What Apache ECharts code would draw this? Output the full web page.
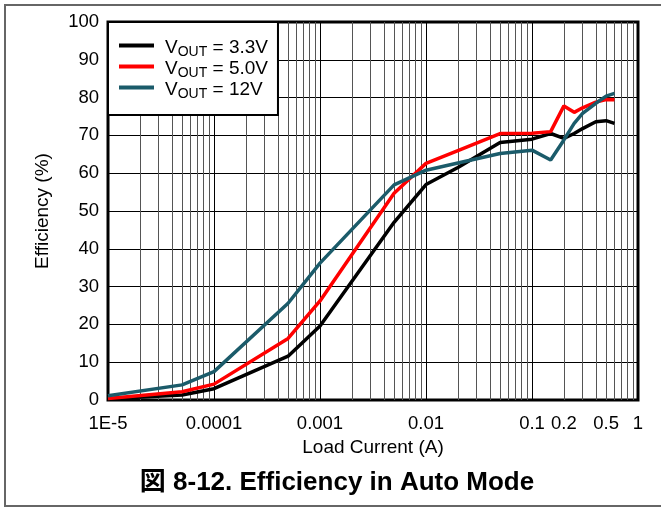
<!DOCTYPE html>
<html><head><meta charset="utf-8">
<script src="https://cdn.jsdelivr.net/npm/echarts@6/dist/echarts.min.js"></script>
<style>html,body{margin:0;padding:0;background:#fff}#c{width:661px;height:508px}</style>
</head><body><div id="c"></div>
<script>
// Load current (A)
const currents = [1e-5, 5e-5, 1e-4, 5e-4, 1e-3, 5e-3, 0.01, 0.02, 0.05, 0.1, 0.15, 0.2, 0.25, 0.3, 0.4, 0.5, 0.6];
// Efficiency (%)
const eff33 = [0.3, 1.3, 3.0, 11.6, 19.6, 47.0, 57.0, 61.5, 68.1, 69.0, 70.5, 69.2, 70.5, 71.8, 73.6, 73.9, 73.2];
const eff50 = [0.4, 2.2, 4.2, 16.3, 26.2, 54.7, 62.6, 66.0, 70.5, 70.6, 71.0, 77.8, 76.1, 77.3, 78.8, 79.5, 79.4];
const eff12 = [1.1, 4.0, 7.5, 25.6, 36.2, 56.9, 60.8, 62.7, 65.2, 66.1, 63.5, 68.8, 73.2, 75.8, 78.5, 80.4, 81.1];
const seriesNames = ['3.3V', '5.0V', '12V'];
const seriesColors = ['#000000', '#ff0000', '#1b5b6a'];
const xTickValues = [1e-5, 1e-4, 1e-3, 1e-2, 0.1, 0.2, 0.5, 1];
const xTickLabels = ['1E-5', '0.0001', '0.001', '0.01', '0.1', '0.2', '0.5', '1'];

// log grid lines: 1..9 x each decade
const gridVals = [];
for (let d = -5; d < 0; d++) {
  for (let k = 1; k <= 9; k++) gridVals.push(Number((k * Math.pow(10, d)).toPrecision(6)));
}
gridVals.push(1);
const gridColors = ['#000'].concat(Array(8).fill('#555'));

const font = 'Arial, "Liberation Sans", sans-serif';
const chart = echarts.init(document.getElementById('c'), null, {renderer: 'canvas'});
const seriesData = [eff33, eff50, eff12];

chart.setOption({
  animation: false,
  backgroundColor: '#fff',
  graphic: [{
    type: 'rect', z: -10,
    shape: {x: 5, y: 5, width: 700, height: 501},
    style: {fill: 'none', stroke: '#666', lineWidth: 2}
  }],
  title: {
    text: '図 8-12. Efficiency in Auto Mode',
    left: 332, top: 465, textAlign: 'center',
    textStyle: {fontSize: 26, fontWeight: 'bold', color: '#000',
      fontFamily: 'Arial, "Liberation Sans", "Noto Sans CJK JP", sans-serif'}
  },
  grid: {left: 108, top: 22, width: 530, height: 378, show: true,
    borderColor: '#000', borderWidth: 3, backgroundColor: 'transparent', outerBoundsMode: 'none'},
  legend: {
    left: 108, top: 22, orient: 'vertical',
    backgroundColor: '#fff', borderColor: '#000', borderWidth: 2,
    padding: [16, 10, 14, 11], itemGap: 0,
    itemWidth: 35, itemHeight: 4, icon: 'rect',
    formatter: n => '{v|V}{s|OUT}{v| = ' + n + '}',
    textStyle: {padding: [0, 0, 0, 6], rich: {
      v: {fontSize: 19, fontFamily: font, color: '#000', lineHeight: 23, verticalAlign: 'bottom'},
      s: {fontSize: 14, fontFamily: font, color: '#000', lineHeight: 23, verticalAlign: 'bottom', padding: [0, 0, -2, 0]}
    }},
    data: seriesNames
  },
  xAxis: {
    type: 'log', logBase: 10, min: 1e-5, max: 1,
    name: 'Load Current (A)', nameLocation: 'middle', nameGap: 32,
    nameTextStyle: {fontSize: 19, fontFamily: font, color: '#000'},
    axisLine: {show: false},
    axisTick: {show: false, customValues: gridVals},
    axisLabel: {customValues: xTickValues, fontSize: 18.5, fontFamily: font, color: '#000', margin: 14,
      formatter: v => {
        for (let i = 0; i < xTickValues.length; i++) {
          if (Math.abs(Math.log10(v) - Math.log10(xTickValues[i])) < 1e-6) return xTickLabels[i];
        }
        return '';
      }},
    splitLine: {show: true, lineStyle: {color: gridColors, width: 1}}
  },
  yAxis: {
    type: 'value', min: 0, max: 100, interval: 10,
    name: 'Efficiency (%)', nameLocation: 'middle', nameGap: 56, nameRotate: 90,
    nameTextStyle: {fontSize: 19, fontFamily: font, color: '#000'},
    axisLine: {show: false}, axisTick: {show: false},
    axisLabel: {fontSize: 18.5, fontFamily: font, color: '#000', margin: 9},
    splitLine: {show: true, lineStyle: {color: '#000', width: 1.2}}
  },
  series: seriesNames.map((n, i) => ({
    name: n, type: 'line', symbol: 'none', z: 3 + i,
    color: seriesColors[i],
    lineStyle: {width: 3.5, color: seriesColors[i]},
    data: currents.map((c, j) => [c, seriesData[i][j]])
  }))
});
</script></body></html>
